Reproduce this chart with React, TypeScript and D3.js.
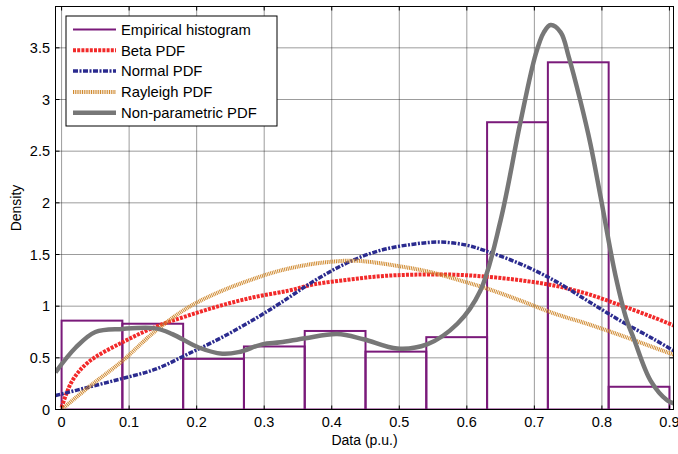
import React from "react";
import * as d3 from "d3";

const xTicks = [0, 0.1, 0.2, 0.3, 0.4, 0.5, 0.6, 0.7, 0.8, 0.9];
const yTicks = [0, 0.5, 1, 1.5, 2, 2.5, 3, 3.5];
const yTickLabels = ["0", "0.5", "1", "1.5", "2", "2.5", "3", "3.5"];

const binStarts = [0, 0.09, 0.18, 0.27, 0.36, 0.45, 0.54, 0.63, 0.72, 0.81];
const binWidth = 0.09;
const histDensity = [0.86, 0.83, 0.49, 0.61, 0.76, 0.56, 0.7, 2.78, 3.36, 0.22];

const betaPts: [number, number][] = [
  [0, 0.02], [0.016, 0.28], [0.04, 0.46], [0.09, 0.65], [0.139, 0.8], [0.188, 0.91],
  [0.238, 1.01], [0.287, 1.09], [0.336, 1.15], [0.373, 1.21], [0.423, 1.255], [0.472, 1.29],
  [0.521, 1.305], [0.58, 1.305], [0.63, 1.285], [0.68, 1.25], [0.729, 1.2], [0.778, 1.12],
  [0.827, 1.01], [0.877, 0.89], [0.911, 0.8],
];

const normalPts: [number, number][] = [
  [-0.009, 0.135], [0.04, 0.216], [0.09, 0.3], [0.139, 0.39], [0.188, 0.54], [0.238, 0.7],
  [0.287, 0.88], [0.324, 1.03], [0.373, 1.24], [0.423, 1.42], [0.472, 1.54], [0.521, 1.6],
  [0.561, 1.62], [0.6, 1.59], [0.63, 1.53], [0.679, 1.41], [0.729, 1.25], [0.778, 1.055],
  [0.827, 0.86], [0.877, 0.68], [0.911, 0.55],
];

const rayleighPts: [number, number][] = [
  [0, 0], [0.04, 0.216], [0.09, 0.47], [0.139, 0.76], [0.188, 0.99], [0.238, 1.15],
  [0.287, 1.27], [0.324, 1.345], [0.373, 1.41], [0.423, 1.44], [0.447, 1.435], [0.497, 1.39],
  [0.546, 1.33], [0.595, 1.24], [0.63, 1.17], [0.679, 1.055], [0.729, 0.93], [0.778, 0.83],
  [0.827, 0.72], [0.877, 0.6], [0.911, 0.52],
];

const kdePts: [number, number][] = [
  [-0.009, 0.36], [0.021, 0.6], [0.05, 0.75], [0.09, 0.78], [0.139, 0.785], [0.164, 0.73],
  [0.203, 0.6], [0.238, 0.54], [0.262, 0.555], [0.297, 0.63], [0.324, 0.65], [0.361, 0.69],
  [0.408, 0.73], [0.447, 0.68], [0.497, 0.59], [0.541, 0.63], [0.586, 0.83], [0.62, 1.15],
  [0.65, 1.83], [0.679, 2.77], [0.702, 3.44], [0.714, 3.65], [0.724, 3.72], [0.739, 3.65],
  [0.751, 3.41], [0.768, 2.99], [0.783, 2.57], [0.798, 2.06], [0.82, 1.3], [0.837, 0.86],
  [0.847, 0.69], [0.872, 0.28], [0.897, 0.087], [0.906, 0.06],
];

const legendLabels = ["Empirical histogram", "Beta PDF", "Normal PDF", "Rayleigh PDF", "Non-parametric PDF"];

const W = 678;
const H = 454;
const left = 55.5;
const right = 673.5;
const top = 6.5;
const bottom = 409.5;
const FONT = "'Liberation Sans', Arial, Helvetica, sans-serif";

const styles = [
  { stroke: "#7a1a7a", width: 2, dash: "" },
  { stroke: "#f22a2a", width: 4, dash: "3,1.2" },
  { stroke: "#2b2b8f", width: 3.5, dash: "5,1.5,2,1.5" },
  { stroke: "#d08a30", width: 4, dash: "1,0.8" },
  { stroke: "#777777", width: 4.5, dash: "" },
];

export default function App() {
  const x = d3.scaleLinear().domain([-0.009, 0.906]).range([left, right]);
  const y = d3.scaleLinear().domain([0, 3.9]).range([bottom, top]);
  const line = d3
    .line<[number, number]>()
    .x((d) => x(d[0]))
    .y((d) => y(d[1]))
    .curve(d3.curveCatmullRom.alpha(0.5));

  const curves = [betaPts, normalPts, rayleighPts];

  return (
    <svg width={W} height={H} style={{ position: "absolute", left: 0, top: 0, background: "#fff" }} fontFamily={FONT}>
      <defs>
        <clipPath id="plotClip">
          <rect x={left} y={top} width={right - left} height={bottom - top} />
        </clipPath>
      </defs>
      <rect x={0} y={0} width={W} height={H} fill="#fff" />
      {/* grid */}
      {xTicks.map((t) => (
        <line key={"gx" + t} x1={x(t)} x2={x(t)} y1={top} y2={bottom} stroke="#222" strokeWidth={0.9} strokeDasharray="1,1" />
      ))}
      {yTicks.map((t) => (
        <line key={"gy" + t} x1={left} x2={right} y1={y(t)} y2={y(t)} stroke="#222" strokeWidth={0.9} strokeDasharray="1,1" />
      ))}
      <g clipPath="url(#plotClip)">
        {binStarts.map((b, i) => (
          <rect
            key={"h" + i}
            x={x(b)}
            y={y(histDensity[i])}
            width={x(b + binWidth) - x(b)}
            height={y(0) - y(histDensity[i])}
            fill="none"
            stroke={styles[0].stroke}
            strokeWidth={styles[0].width}
          />
        ))}
        {curves.map((pts, i) => (
          <path
            key={"c" + i}
            d={line(pts) || ""}
            fill="none"
            stroke={styles[i + 1].stroke}
            strokeWidth={styles[i + 1].width}
            strokeDasharray={styles[i + 1].dash}
          />
        ))}
        <path d={line(kdePts) || ""} fill="none" stroke={styles[4].stroke} strokeWidth={styles[4].width} strokeLinejoin="round" />
      </g>
      {/* axes box */}
      <rect x={left} y={top} width={right - left} height={bottom - top} fill="none" stroke="#000" strokeWidth={1} />
      {xTicks.map((t) => (
        <g key={"tx" + t}>
          <line x1={x(t)} x2={x(t)} y1={bottom} y2={bottom - 4} stroke="#000" />
          <line x1={x(t)} x2={x(t)} y1={top} y2={top + 4} stroke="#000" />
          <text x={x(t)} y={427} fontSize={14.5} textAnchor="middle" fill="#000">
            {String(t)}
          </text>
        </g>
      ))}
      {yTicks.map((t, i) => (
        <g key={"ty" + t}>
          <line x1={left} x2={left + 4} y1={y(t)} y2={y(t)} stroke="#000" />
          <line x1={right} x2={right - 4} y1={y(t)} y2={y(t)} stroke="#000" />
          <text x={50} y={y(t) + 5} fontSize={14.5} textAnchor="end" fill="#000">
            {yTickLabels[i]}
          </text>
        </g>
      ))}
      <text x={(left + right) / 2} y={445} fontSize={14} textAnchor="middle" fill="#000">
        Data (p.u.)
      </text>
      <text transform={`translate(21,${(top + bottom) / 2}) rotate(-90)`} fontSize={14} textAnchor="middle" fill="#000">
        Density
      </text>
      {/* legend */}
      <rect x={66} y={16} width={211} height={110} fill="#fff" stroke="#000" strokeWidth={1} />
      {legendLabels.map((lab, i) => {
        const cy = 29.5 + i * 20.8;
        const s = styles[i];
        return (
          <g key={"lg" + i}>
            <line x1={73} x2={116} y1={cy} y2={cy} stroke={s.stroke} strokeWidth={s.width} strokeDasharray={s.dash} />
            <text x={121} y={cy + 5.3} fontSize={14.8} fill="#000">
              {lab}
            </text>
          </g>
        );
      })}
    </svg>
  );
}
